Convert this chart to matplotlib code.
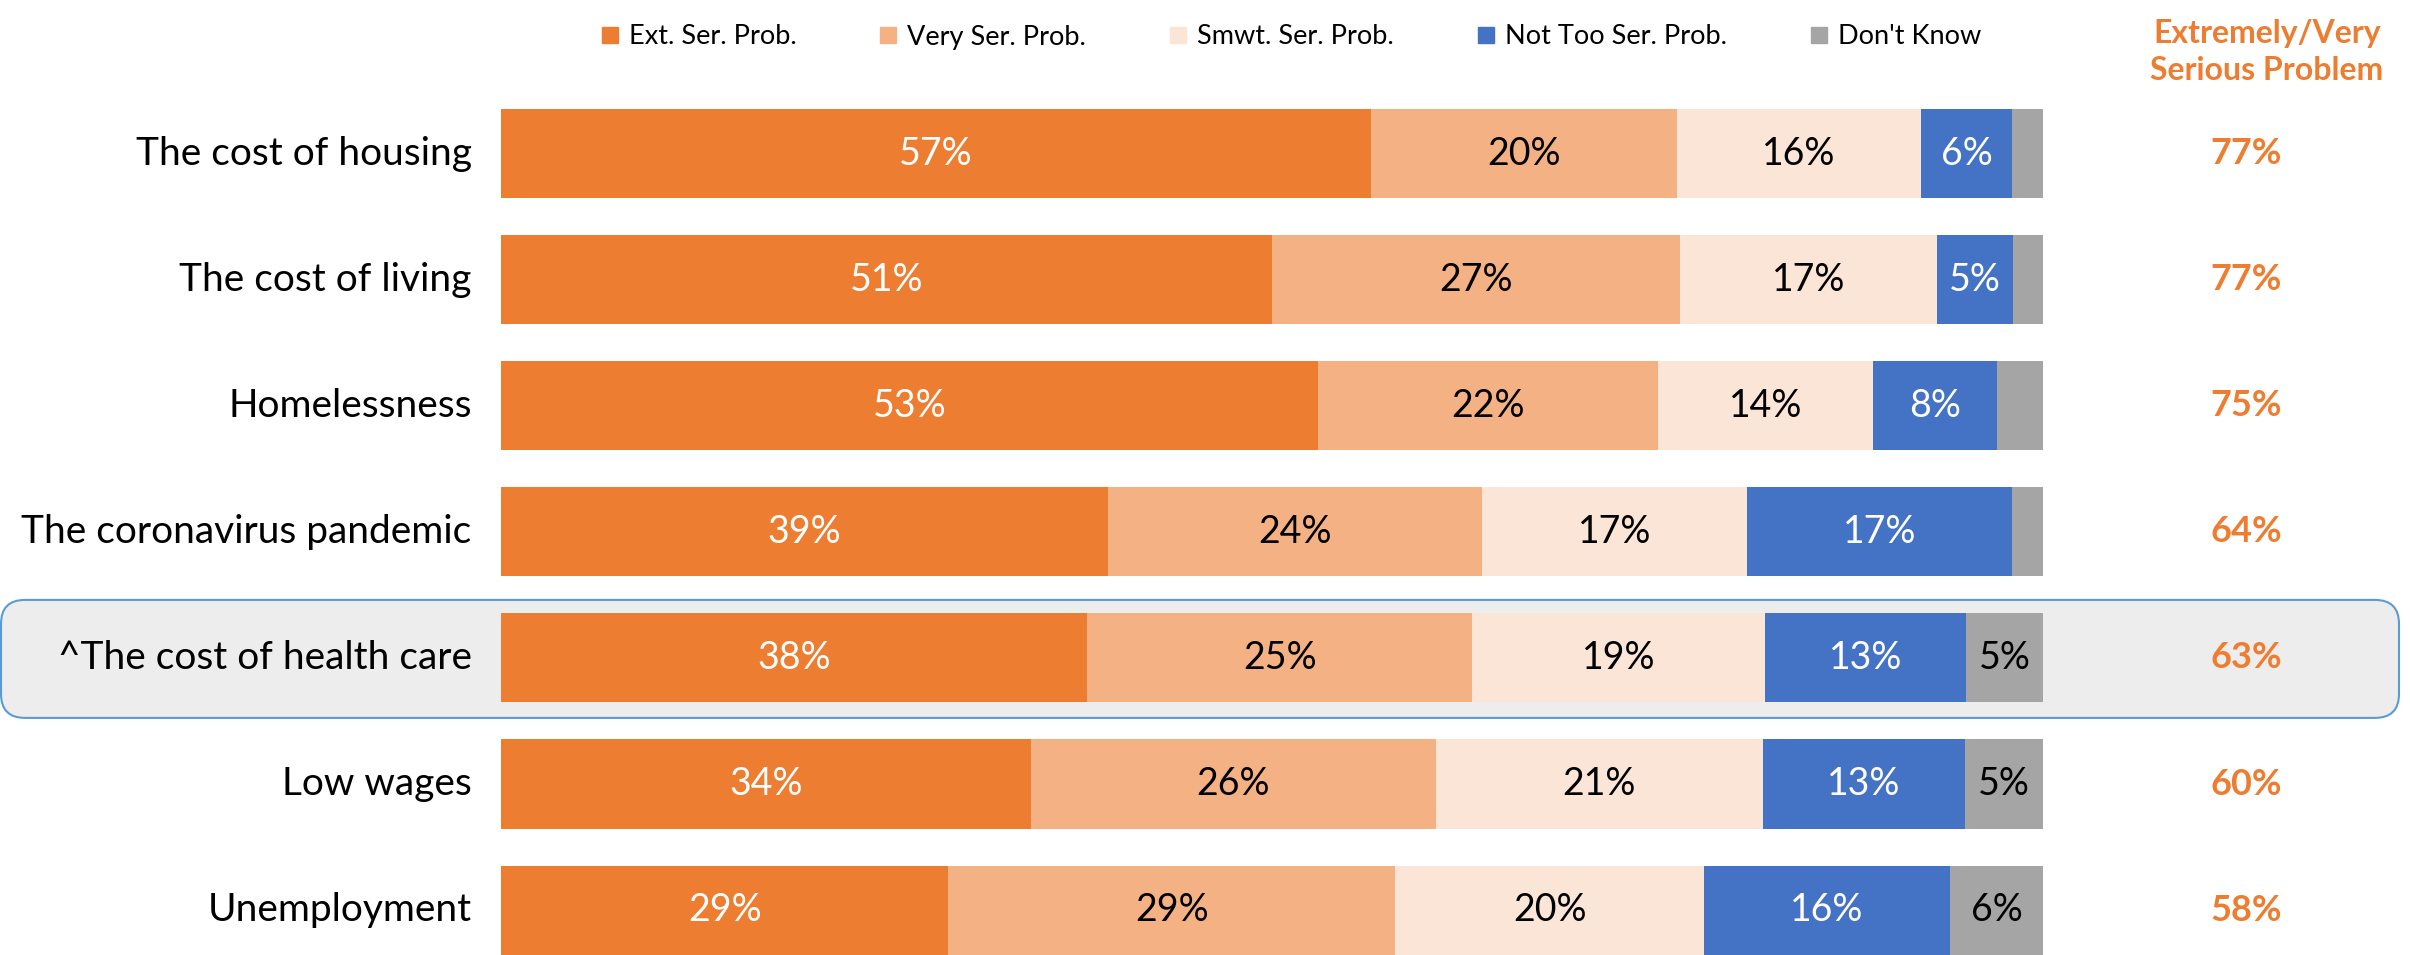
import matplotlib
matplotlib.use("Agg")
import matplotlib.pyplot as plt
from matplotlib.patches import FancyBboxPatch
from matplotlib.lines import Line2D
import numpy as np

plt.rcParams['font.family'] = ['Lato', 'DejaVu Sans']

categories = ["The cost of housing", "The cost of living", "Homelessness",
              "The coronavirus pandemic", "^The cost of health care",
              "Low wages", "Unemployment"]
series_names = ["Ext. Ser. Prob.", "Very Ser. Prob.", "Smwt. Ser. Prob.",
                "Not Too Ser. Prob.", "Don't Know"]
ext_serious = [57, 51, 53, 39, 38, 34, 29]
very_serious = [20, 27, 22, 24, 25, 26, 29]
smwt_serious = [16, 17, 14, 17, 19, 21, 20]
not_too_serious = [6, 5, 8, 17, 13, 13, 16]
dont_know = [2, 2, 3, 2, 5, 5, 6]
ext_very_total = [77, 77, 75, 64, 63, 60, 58]
highlight_row = 4

colors = ["#ED7D31", "#F4B183", "#FBE5D6", "#4472C4", "#A5A5A5"]
text_colors = ["white", "black", "black", "white", "black"]
accent = "#ED7D31"

W, H = 2410, 955
fig = plt.figure(figsize=(W / 100, H / 100), dpi=100)

# background axes in pixel units (for highlight box)
bg = fig.add_axes([0, 0, 1, 1], zorder=0)
bg.set_xlim(0, W)
bg.set_ylim(H, 0)
bg.axis("off")

# bar axes
left_px, right_px = 501, 2043
row0_px, step_px = 153.5, 126.1
top_px = row0_px - step_px / 2
bot_px = row0_px + step_px * (len(categories) - 0.5)
ax = fig.add_axes([left_px / W, 1 - bot_px / H, (right_px - left_px) / W,
                   (bot_px - top_px) / H], zorder=1)
ax.patch.set_visible(False)
ax.set_xlim(0, 100)
ax.set_ylim(len(categories) - 0.5, -0.5)
ax.axis("off")

data = np.array([ext_serious, very_serious, smwt_serious, not_too_serious, dont_know], dtype=float)
norm = data / data.sum(axis=0) * 100
y = np.arange(len(categories))

# highlight box
hy = row0_px + step_px * highlight_row
box = FancyBboxPatch((1, hy - 58), 2398, 118,
                     boxstyle="round,pad=0,rounding_size=24",
                     facecolor="#EDEDED", edgecolor="#5B9BD5", linewidth=1.5)
bg.add_patch(box)

lefts = np.zeros(len(categories))
for k in range(5):
    ax.barh(y, norm[k], left=lefts, height=0.706, color=colors[k], linewidth=0)
    for i in range(len(categories)):
        v = data[k, i]
        if v >= 5:
            ax.text(lefts[i] + norm[k, i] / 2, y[i], f"{int(v)}%", ha="center", va="center",
                    fontsize=27, color=text_colors[k])
    lefts += norm[k]

for i, c in enumerate(categories):
    ax.text(-1.9, y[i], c, ha="right", va="center", fontsize=28, color="black", clip_on=False)
    ax.text(113.2, y[i], f"{ext_very_total[i]}%", ha="center", va="center",
            fontsize=26, fontweight="bold", color=accent, clip_on=False)

fig.text(2267 / W, 1 - 52 / H, "Extremely/Very\nSerious Problem", ha="center", va="center",
         fontsize=23, fontweight="bold", color=accent, linespacing=1.3)

handles = [Line2D([0], [0], marker="s", linestyle="none", markersize=12,
                  markerfacecolor=c, markeredgecolor=c) for c in colors]
fig.legend(handles, series_names, ncol=5, loc="center", bbox_to_anchor=(1290 / W, 1 - 37 / H),
           frameon=False, fontsize=19.5, handlelength=0.8, handletextpad=0.3, columnspacing=3.0)

fig.savefig("out.png", dpi=100)
